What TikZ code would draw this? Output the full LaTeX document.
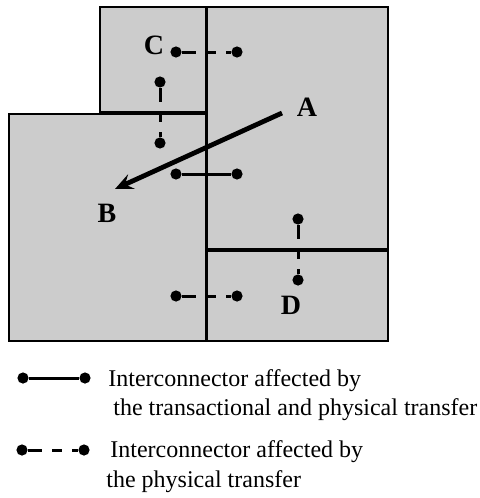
\documentclass[tikz,border=0pt]{standalone}
\usepackage{fontspec}
\setmainfont{Liberation Serif}
\usetikzlibrary{arrows.meta}
\definecolor{zonegray}{RGB}{204,204,204}

\begin{document}
\begin{tikzpicture}[
  x=0.5pt, y=-0.5pt,
  zone/.style={draw, line width=0.8pt, fill=zonegray},
  pin/.style={circle, fill, inner sep=0pt, minimum size=5.6pt},
  link/.style={line width=1.5pt},
  dlink/.style={line width=1.5pt, dash pattern=on 7pt off 5pt on 5pt off 5pt on 10pt},
  lbl/.style={font=\fontsize{14}{16}\selectfont\bfseries},
  legend/.style={anchor=base west, inner sep=0pt, font=\fontsize{12}{15}\selectfont},
  >={Stealth[length=9pt,width=8pt,inset=3.5pt]}
]
  \useasboundingbox (0,0) rectangle (480,498);

  % zones
  \draw[zone] (100,7)   rectangle (206,112);
  \draw[zone] (207,7)   rectangle (388,249);
  \draw[zone] (9,114)   rectangle (206,341);
  \draw[zone] (207,251) rectangle (388,341);

  % interconnectors
  \node[pin] (c1) at (176,52)  {};
  \node[pin] (c2) at (237,52)  {};
  \node[pin] (v1) at (160,82)  {};
  \node[pin] (v2) at (160,143) {};
  \node[pin] (m1) at (176,174) {};
  \node[pin] (m2) at (237,174) {};
  \node[pin] (d1) at (298,219) {};
  \node[pin] (d2) at (298,280) {};
  \node[pin] (b1) at (176,296) {};
  \node[pin] (b2) at (237,296) {};

  \draw[dlink] (c1)--(c2);
  \draw[dlink] (v1)--(v2);
  \draw[link]  (m1)--(m2);
  \draw[dlink] (d1)--(d2);
  \draw[dlink] (b1)--(b2);

  % transfer A -> B
  \coordinate (from) at (282,113);
  \coordinate (to)   at (115,189);
  \draw[->, line width=2.4pt] (from)--(to);

  \node[lbl] (A) at (307,107) {A};
  \node[lbl] (B) at (107,213) {B};
  \node[lbl] (C) at (154,45)  {C};
  \node[lbl] (D) at (291,305) {D};

  % legend
  \node[pin] (s1) at (23,378) {};
  \node[pin] (s2) at (85,378) {};
  \draw[link] (s1)--(s2);
  \node[legend] (t1) at (108,386) {Interconnector affected by};
  \node[legend] (t2) at (113,415) {the transactional and physical transfer};

  \node[pin] (p1) at (22,450) {};
  \node[pin] (p2) at (84,450) {};
  \draw[dlink] (p1)--(p2);
  \node[legend] (t3) at (110,457) {Interconnector affected by};
  \node[legend] (t4) at (106,487) {the physical transfer};
\end{tikzpicture}
\end{document}
